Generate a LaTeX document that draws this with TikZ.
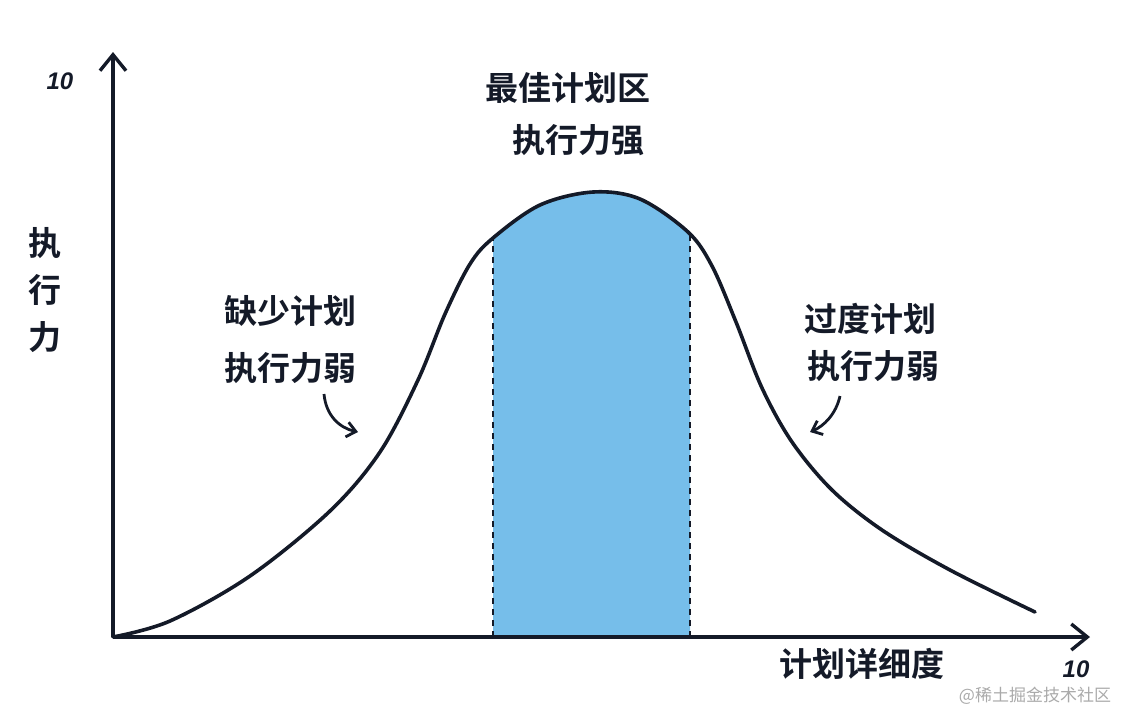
\documentclass[tikz,border=0pt]{standalone}
\usepackage{fontspec}
\setmainfont{Liberation Sans}
\newfontfamily\cjk{Noto Sans CJK SC}[BoldFont={Noto Sans CJK SC Bold}]
\usetikzlibrary{arrows.meta}
\definecolor{ink}{RGB}{20,26,40}
\definecolor{zone}{RGB}{118,190,234}
\definecolor{wm}{RGB}{170,170,170}
\tikzset{
  axis/.style={draw=ink, line width=3.8pt, -{Straight Barb[length=16pt,width=26pt,line width=3.4pt]}},
  curve/.style={draw=ink, line width=3.6pt, line join=round, line cap=round},
  hand/.style={font=\cjk\bfseries\fontsize{33}{47}\selectfont, text=ink, inner sep=0pt},
  num/.style={font=\itshape\bfseries\fontsize{24}{26}\selectfont, text=ink, inner sep=0pt},
  pointer/.style={draw=ink, line width=2.8pt, -{Straight Barb[length=9pt,width=15pt,line width=2.8pt]}},
  edge/.style={draw=ink, line width=2pt, dash pattern=on 6pt off 5pt},
}
\begin{document}
\begin{tikzpicture}[x=1pt,y=-1pt]
\useasboundingbox (0,0) rectangle (1132,724);
\def\curvepts{(113,637) (170,621) (250,576) (330,511) (380,452) (418,380) (445,314) (470,264) (493,238) (540,205) (593,192) (640,199) (688,232) (712,266) (736,322) (762,388) (792,442) (832,490) (882,530) (950,570) (1035,612)}
% blue zone
\begin{scope}
\clip (493,0) rectangle (690,637);
\fill[zone] plot[smooth, tension=0.55] coordinates {\curvepts} -- (1035,637) -- (113,637) -- cycle;
\end{scope}
% coordinates
\coordinate (O) at (113,637);
\coordinate (Ytip) at (113,52);
\coordinate (Xtip) at (1090,637);
\coordinate (Lb) at (493,637);
\coordinate (Lt) at (493,238);
\coordinate (Rb) at (690,637);
\coordinate (Rt) at (690,233);
% dashed borders
\draw[edge] (Lb) -- (Lt);
\draw[edge] (Rb) -- (Rt);
% axes
\draw[axis] (O) -- (Ytip);
\draw[axis] (O) -- (Xtip);
% curve
\draw[curve] plot[smooth, tension=0.55] coordinates {\curvepts};
% labels
\node[num] (ymax) at (60,81) {10};
\node[num] (xmax) at (1076,669) {10};
\node[hand] (best) at (568,88) {最佳计划区};
\node[hand] (strong) at (578,140) {执行力强};
\node[hand, align=center] (ylab) at (45,290) {执\\行\\力};
\node[hand] (less) at (290,311) {缺少计划};
\node[hand] (weak1) at (290,368) {执行力弱};
\node[hand] (over) at (870,319) {过度计划};
\node[hand] (weak2) at (873,366) {执行力弱};
\node[hand] (xlab) at (862,664) {计划详细度};
\node[font=\cjk\fontsize{17}{20}\selectfont, text=wm, inner sep=0pt] (mark) at (1035,696) {@稀土掘金技术社区};
% pointers
\coordinate (p1s) at (324,394);
\coordinate (p1e) at (358,432);
\coordinate (p2s) at (840,396);
\coordinate (p2e) at (810,432);
\draw[pointer] (p1s) .. controls (326,416) and (340,428) .. (p1e);
\draw[pointer] (p2s) .. controls (836,414) and (824,426) .. (p2e);
\end{tikzpicture}
\end{document}
